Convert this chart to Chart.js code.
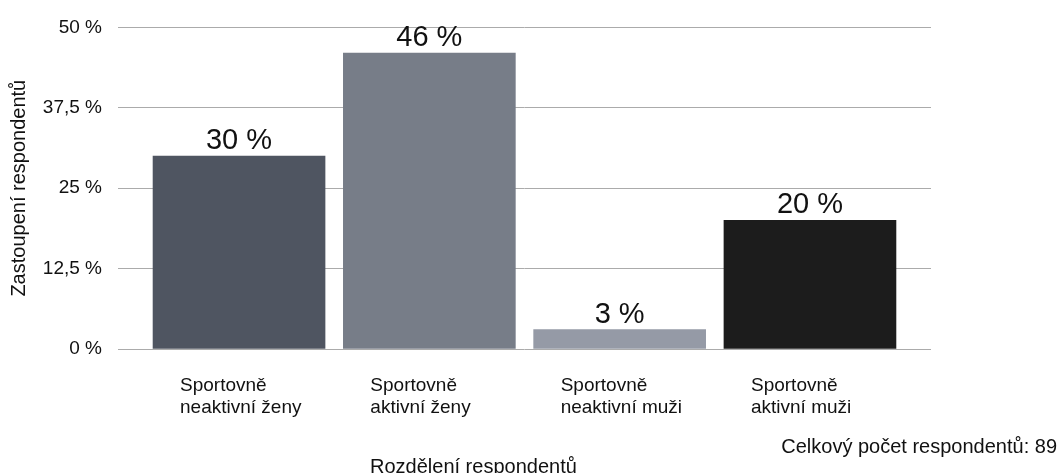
<!DOCTYPE html>
<html>
<head>
<meta charset="utf-8">
<script src="https://cdn.jsdelivr.net/npm/chart.js@4/dist/chart.umd.min.js"></script>
<style>
  html, body { margin: 0; padding: 0; background: #fff; }
  #wrap { width: 1063px; height: 473px; }
</style>
</head>
<body>
<div id="wrap"><canvas id="chart" width="1063" height="473"></canvas></div>
<script>
const CATEGORIES = ['Sportovně neaktivní ženy', 'Sportovně aktivní ženy', 'Sportovně neaktivní muži', 'Sportovně aktivní muži'];
const VALUES = [30, 46, 3, 20];
const BAR_COLORS = ['#4f5561', '#777d88', '#959aa6', '#1c1c1c'];
const Y_TICKS = [0, 12.5, 25, 37.5, 50];
const Y_TITLE = 'Zastoupení respondentů';
const X_TITLE = 'Rozdělení respondentů';
const FOOTER = 'Celkový počet respondentů: 89';

const FONT = '"Liberation Sans", Arial, Helvetica, sans-serif';
const TEXT = '#111111';
const GRID = '#ababab';

function pct(v) {
  return String(v).replace('.', ',') + ' %';
}

// štítky hodnot nad sloupci
const barLabels = {
  id: 'barLabels',
  afterDatasetsDraw(chart) {
    const ctx = chart.ctx;
    const meta = chart.getDatasetMeta(0);
    ctx.save();
    ctx.font = '29px ' + FONT;
    ctx.fillStyle = TEXT;
    ctx.textAlign = 'center';
    ctx.textBaseline = 'alphabetic';
    meta.data.forEach((bar, i) => {
      ctx.fillText(Math.round(VALUES[i]) + ' %', bar.x, bar.y - 7);
    });
    ctx.restore();
  }
};

// popisek osy x a poznámka s počtem respondentů
const extraText = {
  id: 'extraText',
  afterDraw(chart) {
    const ctx = chart.ctx;
    ctx.save();
    ctx.font = '20px ' + FONT;
    ctx.fillStyle = TEXT;
    ctx.textBaseline = 'alphabetic';
    ctx.textAlign = 'right';
    ctx.fillText(FOOTER, 1057, 453);
    ctx.textAlign = 'left';
    ctx.fillText(X_TITLE, 370, 472.5);
    ctx.restore();
  }
};

new Chart(document.getElementById('chart'), {
  type: 'bar',
  data: {
    datasets: [{
      data: VALUES.map((v, i) => ({ x: i, y: v })),
      backgroundColor: BAR_COLORS,
      borderWidth: 0,
      barThickness: 172
    }]
  },
  options: {
    responsive: false,
    animation: false,
    layout: { padding: { left: 7, right: 132, top: 25, bottom: 0 } },
    plugins: {
      legend: { display: false },
      tooltip: { enabled: false }
    },
    scales: {
      x: {
        type: 'linear',
        offset: false,
        min: -0.636,
        max: 3.636,
        grid: { display: false },
        border: { display: false },
        afterBuildTicks: (s) => { s.ticks = CATEGORIES.map((c, i) => ({ value: i })); },
        afterFit: (s) => { s.height = 124; },
        ticks: {
          autoSkip: false,
          maxRotation: 0,
          align: 'start',
          labelOffset: -59,
          padding: 17,
          color: TEXT,
          font: { family: FONT, size: 19, lineHeight: 1.2 },
          callback: (v) => {
            const c = CATEGORIES[v];
            if (!c) return '';
            const k = c.indexOf(' ');
            return [c.slice(0, k), c.slice(k + 1)];
          }
        }
      },
      y: {
        min: 0,
        max: 50,
        afterBuildTicks: (s) => { s.ticks = Y_TICKS.map(v => ({ value: v })); },
        afterFit: (s) => { s.width = 111; },
        grid: { color: GRID, lineWidth: 1, drawTicks: false },
        border: { display: false },
        ticks: {
          padding: 16,
          color: TEXT,
          font: { family: FONT, size: 19 },
          callback: (v) => pct(v)
        },
        title: {
          display: true,
          text: Y_TITLE,
          color: TEXT,
          padding: { top: 0, bottom: 0 },
          font: { family: FONT, size: 20 }
        }
      }
    }
  },
  plugins: [barLabels, extraText]
});
</script>
</body>
</html>
